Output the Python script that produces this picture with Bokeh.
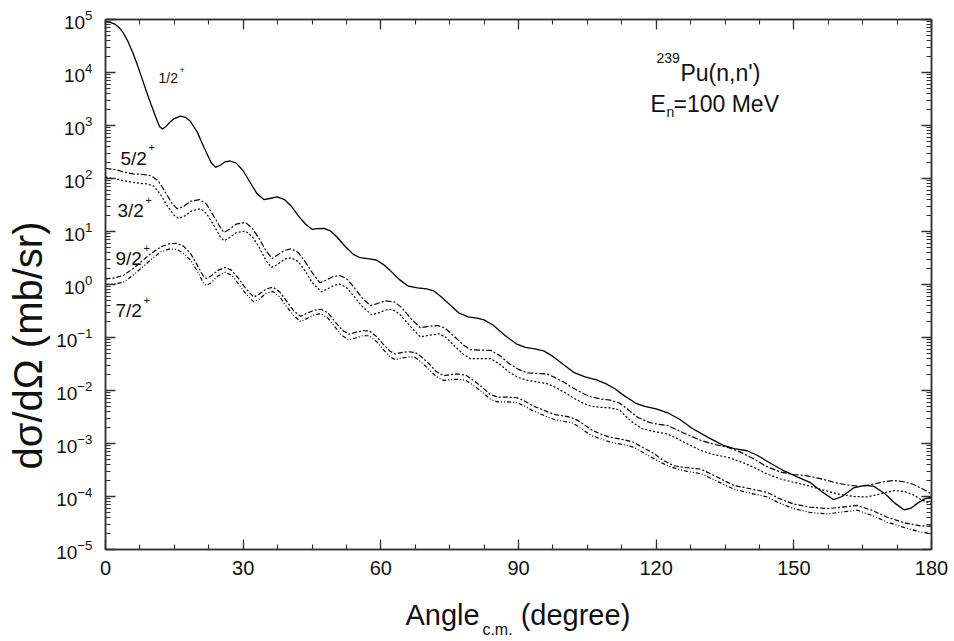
from bokeh.plotting import figure
from bokeh.models import (FixedTicker, LinearAxis, LogAxis, Label, Range1d,
                          CustomJSTickFormatter)
from bokeh.embed import file_html
from bokeh.resources import INLINE

# ---------------- data ----------------
# 1/2+ (solid)
x_12 = [0, 1, 2, 3, 4, 5, 6, 7, 8, 9, 10, 11, 11.8, 12.4, 13.2, 14, 15, 16.3, 17.5, 18.5, 20, 21.5,
        23, 24, 25, 26, 27.2, 28.5, 30, 31.5, 33, 34.5, 35.5, 37.4, 39, 40.5, 42, 43.5, 45, 46.2,
        47.6, 49, 50.5, 52, 54, 55.5, 57.5, 59, 60.5, 62, 64, 66, 68, 70, 71.5, 73, 75, 77, 79, 81,
        82.5, 84.5, 87, 89.5, 91.5, 93.5, 95.5, 97.5, 100, 102, 104.5, 107, 109, 111, 113, 115.5,
        117.5, 120, 122.5, 125, 128, 131, 134.5, 137, 139.8, 142, 145, 148, 151, 153.5, 156, 158.7,
        160.5, 163, 165.5, 167.5, 170, 172, 174, 175.5, 177, 178.5, 180]
y_12 = [9.0e4, 8.8e4, 8.2e4, 7.0e4, 5.4e4, 3.7e4, 2.3e4, 1.35e4, 7500, 4200, 2400, 1400, 950, 860,
        960, 1150, 1350, 1500, 1420, 1200, 750, 380, 200, 162, 178, 205, 214, 195, 140, 85, 52, 40,
        41.5, 45, 40, 30, 20, 14, 11, 11.3, 11.5, 10.3, 7.8, 5.5, 3.7, 3.2, 3.05, 2.9, 2.4, 1.85,
        1.25, 0.93, 0.86, 0.83, 0.76, 0.6, 0.42, 0.29, 0.245, 0.232, 0.215, 0.17, 0.11, 0.076, 0.065,
        0.061, 0.056, 0.044, 0.030, 0.022, 0.018, 0.0158, 0.0135, 0.0108, 0.0080, 0.0058, 0.0050,
        0.0045, 0.0038, 0.0029, 0.0019, 0.00135, 9.3e-4, 8.0e-4, 7.3e-4, 6.0e-4, 4.2e-4, 3.0e-4,
        2.3e-4, 1.85e-4, 1.25e-4, 8.7e-5, 1.0e-4, 1.45e-4, 1.62e-4, 1.55e-4, 1.1e-4, 7.5e-5, 5.6e-5,
        6.0e-5, 7.5e-5, 9.0e-5, 9.8e-5]

# 5/2+ (dash-dot)
x_52 = [0, 2, 4, 6, 8.3, 10, 11.5, 13, 14.5, 15.6, 16.8, 18.5, 20.5, 22, 23.5, 25, 25.8, 27, 28.5,
        30.5, 32, 33.5, 35, 36.3, 37.5, 39, 40.5, 42, 43.5, 45, 46.7, 48, 49.5, 51, 52.5, 54, 56,
        57.7, 59, 61, 63, 64.5, 66.5, 68.6, 70.5, 72.5, 74, 76, 78, 79.5, 81.5, 84, 86, 88, 90, 92,
        94, 96.2, 98, 100, 102, 104.2, 106, 108, 110, 112, 114, 116, 118.5, 120.5, 122.4, 124, 126,
        129.7, 132.5, 135.5, 138.5, 141.3, 144, 147.1, 150, 152.9, 156, 158.7, 161.5, 164.5, 167,
        169.5, 171.8, 174, 176, 178, 180]
y_52 = [156, 148, 133, 122, 119, 112, 90, 56, 34, 27, 29, 37, 40, 33, 20, 12, 9.6, 11, 13.8, 14.8,
        11.5, 7.3, 4.3, 3.1, 3.6, 4.4, 4.7, 4.0, 2.7, 1.7, 1.08, 1.2, 1.4, 1.48, 1.3, 0.92, 0.55,
        0.40, 0.43, 0.49, 0.47, 0.37, 0.23, 0.153, 0.163, 0.168, 0.15, 0.105, 0.072, 0.059, 0.058,
        0.057, 0.045, 0.032, 0.025, 0.0215, 0.021, 0.0205, 0.0175, 0.0141, 0.011, 0.0087, 0.0075,
        0.0069, 0.0066, 0.0058, 0.0043, 0.0031, 0.0025, 0.0023, 0.0022, 0.0019, 0.00158, 0.00115,
        9.7e-4, 8.5e-4, 6.8e-4, 5.1e-4, 3.7e-4, 2.9e-4, 2.6e-4, 2.45e-4, 2.15e-4, 1.86e-4, 1.65e-4,
        1.55e-4, 1.68e-4, 1.9e-4, 2.0e-4, 1.9e-4, 1.7e-4, 1.4e-4, 1.12e-4]

# 3/2+ (dotted)
x_32 = [0, 2, 4, 6, 7.6, 9, 10.5, 12, 13.5, 15, 16, 17.2, 18.8, 20.7, 22, 23.5, 25, 25.8, 27, 28.5,
        30.5, 32, 33.5, 35, 36.2, 37.5, 39, 40.5, 42, 43.5, 45, 47, 48.3, 49.8, 51, 52.5, 54, 56, 58,
        59.5, 61, 62.5, 64, 66.5, 68.6, 70.5, 72.6, 74, 76, 78, 79.5, 81.5, 83.9, 86, 88, 90, 92, 94,
        96.2, 98, 100, 102, 104.2, 106, 108, 110, 112, 113.5, 115.1, 117, 119, 122.4, 124, 126,
        129.7, 132.5, 135.5, 138.5, 141.3, 144, 147.1, 150, 152.9, 156, 160, 163, 165.9, 168.5,
        171.8, 174, 176, 178, 180]
y_32 = [106, 100, 91, 84, 81, 79, 72, 50, 30, 20, 17.6, 19.5, 24.5, 27, 22, 13.5, 8.0, 6.7, 7.6, 9.5,
        10.2, 8.0, 5.0, 2.8, 2.1, 2.4, 3.0, 3.2, 2.7, 1.8, 1.1, 0.73, 0.82, 0.96, 1.02, 0.88, 0.62,
        0.38, 0.27, 0.29, 0.33, 0.34, 0.28, 0.16, 0.103, 0.11, 0.117, 0.103, 0.07, 0.048, 0.040,
        0.040, 0.040, 0.031, 0.022, 0.0175, 0.0155, 0.0145, 0.0135, 0.0115, 0.0093, 0.0072, 0.0057,
        0.0050, 0.0048, 0.0047, 0.0043, 0.0032, 0.0024, 0.0019, 0.00172, 0.00151, 0.00132, 0.00107,
        7.4e-4, 6.2e-4, 5.5e-4, 4.5e-4, 3.55e-4, 2.7e-4, 2.14e-4, 1.85e-4, 1.62e-4, 1.35e-4, 1.1e-4,
        1.0e-4, 9.8e-5, 1.1e-4, 1.29e-4, 1.25e-4, 1.08e-4, 8.5e-5, 7.2e-5]

# 9/2+ (dash-dot)
x_92 = [0, 2, 4, 6, 8, 10, 12, 14, 15.5, 17, 18.5, 20, 21.3, 22, 23, 24.5, 26.1, 27.5, 29, 30.5,
        32.3, 33.5, 35, 36.5, 38, 39.5, 41, 42.5, 44, 45.5, 47, 48.5, 50, 51.5, 53, 54.5, 56, 57.5,
        59, 60.5, 62, 63.2, 64.5, 66, 67.5, 69, 70.5, 72, 73.7, 75.5, 77, 78.5, 80, 82, 83.8, 85.4,
        87.5, 89.7, 91.5, 93, 94.8, 96.5, 98, 100, 101.5, 103, 104.5, 106, 107.9, 109.5, 111, 113,
        115.1, 117, 119.5, 121.5, 123.9, 126.5, 129.7, 133, 136.9, 140.5, 144.2, 147, 150, 153.5,
        157.3, 160.5, 163.8, 167, 170.3, 174, 177.6, 180]
y_92 = [1.28, 1.33, 1.5, 2.0, 2.8, 3.9, 5.1, 5.9, 6.0, 5.3, 3.9, 2.3, 1.45, 1.3, 1.45, 1.85, 2.1,
        1.85, 1.3, 0.85, 0.58, 0.66, 0.82, 0.89, 0.72, 0.48, 0.32, 0.25, 0.29, 0.33, 0.34, 0.29, 0.20,
        0.14, 0.115, 0.125, 0.134, 0.133, 0.105, 0.075, 0.055, 0.049, 0.052, 0.054, 0.052, 0.042,
        0.032, 0.023, 0.019, 0.0202, 0.0204, 0.0195, 0.016, 0.0117, 0.0085, 0.0075, 0.0075, 0.0073,
        0.0062, 0.0052, 0.0045, 0.0039, 0.0035, 0.0033, 0.0031, 0.0027, 0.0022, 0.0018, 0.00151,
        0.00135, 0.00126, 0.00118, 0.00105, 8.5e-4, 6.5e-4, 4.8e-4, 3.8e-4, 3.5e-4, 3.3e-4, 2.4e-4,
        1.62e-4, 1.4e-4, 1.2e-4, 9.0e-5, 7.2e-5, 6.3e-5, 5.9e-5, 6.3e-5, 6.8e-5, 5.5e-5, 4.1e-5,
        3.2e-5, 2.8e-5, 2.75e-5]

# 7/2+ (dash-dot-dot)
x_72 = [0, 2, 4, 6, 8, 10, 12, 14, 15.5, 17, 18.5, 20, 21.3, 22, 23, 24.5, 26.1, 27.5, 29, 30.5,
        32.3, 33.5, 35, 36.5, 38, 39.5, 41, 42.5, 44, 45.5, 47, 48.5, 50, 51.5, 53, 54.5, 56, 57.5,
        59, 60.5, 62, 63.2, 64.5, 66, 67.5, 69, 70.5, 72, 73.7, 75.5, 77, 78.5, 80, 82, 83.8, 85.4,
        87.5, 89.7, 91.5, 93, 94.8, 96.5, 98, 100, 101.5, 103, 104.5, 106, 107.9, 109.5, 111, 113,
        115.1, 117.5, 120.2, 122.5, 124.6, 127, 129.7, 133, 136.9, 140.5, 144.2, 147, 150, 153.5,
        157.3, 160.5, 163.8, 167, 170.3, 174, 177.6, 180]
y_72 = [1.0, 1.03, 1.11, 1.5, 2.1, 3.0, 4.1, 4.7, 4.6, 3.9, 2.9, 1.8, 1.08, 0.96, 1.08, 1.45, 1.70,
        1.5, 1.02, 0.68, 0.47, 0.53, 0.68, 0.74, 0.58, 0.38, 0.26, 0.20, 0.23, 0.27, 0.28, 0.23, 0.158,
        0.11, 0.09, 0.098, 0.108, 0.108, 0.085, 0.06, 0.043, 0.038, 0.041, 0.043, 0.042, 0.033, 0.025,
        0.0185, 0.0155, 0.0161, 0.0163, 0.0155, 0.0128, 0.0095, 0.0069, 0.0061, 0.0061, 0.0059,
        0.0050, 0.0042, 0.0036, 0.0031, 0.0028, 0.0026, 0.0025, 0.0021, 0.0017, 0.0014, 0.00123,
        0.0011, 0.00102, 9.5e-4, 8.5e-4, 6.5e-4, 4.8e-4, 3.8e-4, 3.3e-4, 2.95e-4, 2.7e-4, 2.0e-4,
        1.38e-4, 1.15e-4, 9.8e-5, 7.4e-5, 5.9e-5, 5.0e-5, 4.7e-5, 5.1e-5, 5.5e-5, 4.4e-5, 3.3e-5,
        2.6e-5, 2.14e-5, 2.0e-5]

x_ticks = [0, 30, 60, 90, 120, 150, 180]
x_minor = [7.5 * i for i in range(25)]
y_exponents = [-5, -4, -3, -2, -1, 0, 1, 2, 3, 4, 5]
curve_labels = ["1/2", "5/2", "3/2", "9/2", "7/2"]
x_title_parts = ["Angle", "c.m.", "(degree)"]
y_title = "d\u03c3/d\u03a9 (mb/sr)"

# ---------------- layout ----------------
W, H = 954, 641
FL, FR, FT, FB = 105, 931, 19, 549      # frame edges in pixels
FONT = "Liberation Sans"
INK = "#111111"
AX = "#333333"


def X(px):
    return float(f"{(px - FL) * 180.0 / (FR - FL):.5g}")


def Y(py):
    return float(f"{10 ** ((FB - py) / (FB - FT) * 10.0 - 5.0):.5g}")


p = figure(width=W, height=H, x_range=Range1d(0, 180), y_range=Range1d(1e-5, 1e5),
           y_axis_type="log", output_backend="svg", toolbar_location=None,
           min_border_left=FL, min_border_right=W - FR, min_border_top=FT,
           min_border_bottom=H - FB, x_axis_location=None, y_axis_location=None)
p.xgrid.visible = False
p.ygrid.visible = False
p.outline_line_color = AX
p.outline_line_width = 1.5
p.background_fill_color = "white"
p.border_fill_color = "white"

xt = FixedTicker(ticks=x_ticks, minor_ticks=x_minor)
yt = FixedTicker(ticks=[10.0 ** k for k in y_exponents],
                 minor_ticks=[m * 10.0 ** k for k in y_exponents[:-1] for m in range(2, 10)])
blank = CustomJSTickFormatter(code="return ''")


def style(ax, show_labels=False):
    ax.major_tick_in = 10
    ax.major_tick_out = 0
    ax.minor_tick_in = 5
    ax.minor_tick_out = 0
    ax.axis_line_color = AX
    ax.axis_line_width = 1.5
    ax.major_tick_line_color = AX
    ax.major_tick_line_width = 1.3
    ax.minor_tick_line_color = AX
    ax.minor_tick_line_width = 1.1
    ax.major_label_text_font = FONT
    ax.major_label_text_color = INK
    if not show_labels:
        ax.formatter = blank
        ax.major_label_text_color = None
        ax.major_label_standoff = 0


def text_axis(labels, ticks, size, standoff, vertical=False):
    """An axis without line or ticks that only carries text pieces."""
    ax = LinearAxis(ticker=FixedTicker(ticks=ticks, minor_ticks=[]),
                    major_label_overrides={t: s for t, s in zip(ticks, labels)})
    ax.axis_line_color = None
    ax.major_tick_line_color = None
    ax.minor_tick_line_color = None
    ax.major_tick_in = 0
    ax.major_tick_out = 0
    ax.major_label_text_font = FONT
    ax.major_label_text_font_size = f"{size}px"
    ax.major_label_text_color = INK
    ax.major_label_standoff = standoff
    if vertical:
        ax.major_label_orientation = "vertical"
    return ax


# bottom axis with numbers
bottom = LinearAxis(ticker=xt)
style(bottom, show_labels=True)
bottom.major_label_text_font_size = "20px"
bottom.major_label_standoff = 11
p.add_layout(bottom, "below")
# x title pieces: "Angle  (degree)" on one line, "c.m." as a subscript
p.add_layout(text_axis([x_title_parts[0], x_title_parts[2]], [X(442), X(575)], 29, 21), "below")
p.add_layout(text_axis([x_title_parts[1]], [X(497)], 16, -13), "below")

top = LinearAxis(ticker=xt)
style(top)
p.add_layout(top, "above")

left = LogAxis(ticker=yt)
style(left, show_labels=True)
left.major_label_text_font_size = "19px"
left.major_label_standoff = 13
p.add_layout(left, "left")
p.add_layout(text_axis([y_title], [Y(345)], 40, 4, vertical=True), "left")

right = LogAxis(ticker=yt)
style(right)
p.add_layout(right, "right")

# ---------------- curves ----------------
p.line(x_12, y_12, line_color="black", line_width=1.3)
p.line(x_52, y_52, line_color="black", line_width=1.2, line_dash="6 2 2 2")
p.line(x_32, y_32, line_color="black", line_width=1.2, line_dash="2 2")
p.line(x_92, y_92, line_color="black", line_width=1.2, line_dash="5 2 2 2")
p.line(x_72, y_72, line_color="black", line_width=1.2, line_dash="4 2 1 2 1 2")


def lab(text, px, py, size):
    p.add_layout(Label(x=X(px), y=Y(py), text=text, text_font=FONT,
                       text_font_size=f"{size}px", text_align="left",
                       text_baseline="alphabetic", text_color=INK))


# curve labels
lab(curve_labels[0], 158, 78, 14)
lab("+", 179, 70, 9)
lab(curve_labels[1], 120, 158, 19)
lab("+", 148, 147, 11)
lab(curve_labels[2], 117, 210, 19)
lab("+", 145, 199, 11)
lab(curve_labels[3], 115, 258, 19)
lab("+", 143, 247, 11)
lab(curve_labels[4], 115, 310, 19)
lab("+", 143, 299, 11)

# reaction annotation
lab("239", 656, 58, 14)
lab("Pu(n,n')", 680, 72, 23)
lab("E", 650, 103, 23)
lab("n", 666, 112, 14)
lab("=100 MeV", 673, 103, 23)

open("out.html", "w").write(file_html(p, INLINE))
